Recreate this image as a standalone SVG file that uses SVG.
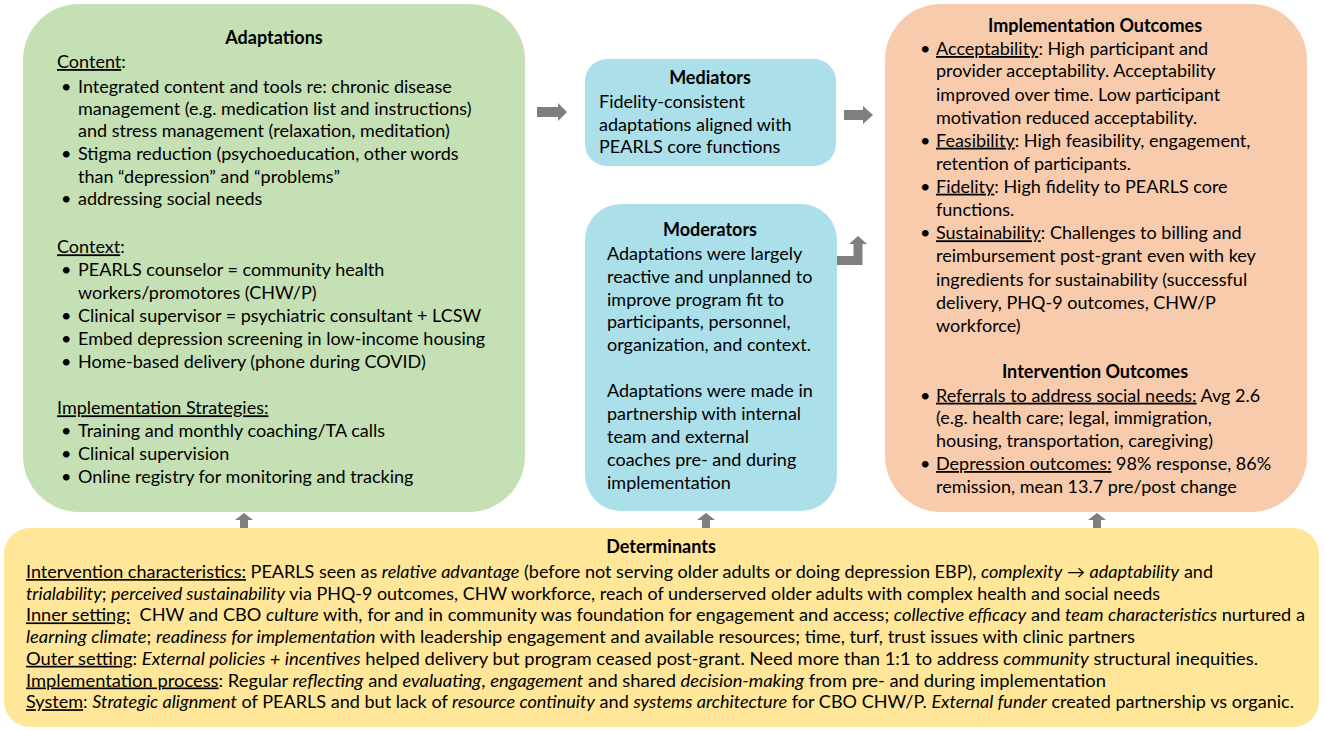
<svg xmlns="http://www.w3.org/2000/svg" width="1325" height="731" viewBox="0 0 1325 731">
<style>
.t{font-family:Lato,"Liberation Sans",sans-serif;font-size:18px;fill:#000;white-space:pre}
.b{font-weight:bold}
.c{text-anchor:middle}
.u{text-decoration:underline}
.i{font-style:italic}
.d{font-size:16.9px}
.arr{fill:#7f7f7f}
</style>
<rect width="1325" height="731" fill="#fff"/>
<g id="adaptations">
<rect x="23" y="4" width="502" height="508" rx="56" fill="#c5e0b4"/>
<text class="t b c" x="274" y="44">Adaptations</text>
<text class="t" x="57" y="68"><tspan class="u">Content</tspan>:</text>
<text class="t" x="61" y="92.7">•</text><text class="t" x="78" y="92.7">Integrated content and tools re: chronic disease</text>
<text class="t" x="78" y="115">management (e.g. medication list and instructions)</text>
<text class="t" x="78" y="137.3">and stress management (relaxation, meditation)</text>
<text class="t" x="61" y="160">•</text><text class="t" x="78" y="160">Stigma reduction (psychoeducation, other words</text>
<text class="t" x="78" y="182.7">than “depression” and “problems”</text>
<text class="t" x="61" y="205.3">•</text><text class="t" x="78" y="205.3">addressing social needs</text>
<text class="t" x="57" y="253.3"><tspan class="u">Context</tspan>:</text>
<text class="t" x="61" y="276">•</text><text class="t" x="78" y="276">PEARLS counselor = community health</text>
<text class="t" x="78" y="299">workers/promotores (CHW/P)</text>
<text class="t" x="61" y="321.7">•</text><text class="t" x="78" y="321.7">Clinical supervisor = psychiatric consultant + LCSW</text>
<text class="t" x="61" y="345">•</text><text class="t" x="78" y="345">Embed depression screening in low-income housing</text>
<text class="t" x="61" y="368.3">•</text><text class="t" x="78" y="368.3">Home-based delivery (phone during COVID)</text>
<text class="t u" x="57" y="414.3">Implementation Strategies:</text>
<text class="t" x="61" y="437.3">•</text><text class="t" x="78" y="437.3">Training and monthly coaching/TA calls</text>
<text class="t" x="61" y="460">•</text><text class="t" x="78" y="460">Clinical supervision</text>
<text class="t" x="61" y="483.3">•</text><text class="t" x="78" y="483.3">Online registry for monitoring and tracking</text>
</g>
<g id="mediators">
<rect x="585" y="59" width="251" height="107" rx="22" fill="#abdfe9"/>
<text class="t b c" x="710" y="84.3">Mediators</text>
<text class="t" x="599" y="107.7">Fidelity-consistent</text>
<text class="t" x="599" y="130.7">adaptations aligned with</text>
<text class="t" x="599" y="153.3">PEARLS core functions</text>
</g>
<g id="moderators">
<rect x="585" y="204" width="252" height="307" rx="36" fill="#abdfe9"/>
<text class="t b c" x="710" y="235.7">Moderators</text>
<text class="t" x="607" y="260">Adaptations were largely</text>
<text class="t" x="607" y="282.7">reactive and unplanned to</text>
<text class="t" x="607" y="305.7">improve program fit to</text>
<text class="t" x="607" y="328.3">participants, personnel,</text>
<text class="t" x="607" y="351">organization, and context.</text>
<text class="t" x="607" y="397.3">Adaptations were made in</text>
<text class="t" x="607" y="420">partnership with internal</text>
<text class="t" x="607" y="443.3">team and external</text>
<text class="t" x="607" y="466">coaches pre- and during</text>
<text class="t" x="607" y="488.7">implementation</text>
</g>
<g id="outcomes">
<rect x="885" y="4" width="422" height="508" rx="56" fill="#f8cbad"/>
<text class="t b c" x="1095" y="31.7">Implementation Outcomes</text>
<text class="t" x="920" y="55">•</text><text class="t" x="936" y="55"><tspan class="u">Acceptability</tspan>: High participant and</text>
<text class="t" x="936" y="77.3">provider acceptability. Acceptability</text>
<text class="t" x="936" y="100.7">improved over time. Low participant</text>
<text class="t" x="936" y="124">motivation reduced acceptability.</text>
<text class="t" x="920" y="146.7">•</text><text class="t" x="936" y="146.7"><tspan class="u">Feasibility</tspan>: High feasibility, engagement,</text>
<text class="t" x="936" y="170">retention of participants.</text>
<text class="t" x="920" y="192.7">•</text><text class="t" x="936" y="192.7"><tspan class="u">Fidelity</tspan>: High fidelity to PEARLS core</text>
<text class="t" x="936" y="216">functions.</text>
<text class="t" x="920" y="239.3">•</text><text class="t" x="936" y="239.3"><tspan class="u">Sustainability</tspan>: Challenges to billing and</text>
<text class="t" x="936" y="261.7">reimbursement post-grant even with key</text>
<text class="t" x="936" y="286">ingredients for sustainability (successful</text>
<text class="t" x="936" y="309.3">delivery, PHQ-9 outcomes, CHW/P</text>
<text class="t" x="936" y="331.7">workforce)</text>
<text class="t b c" x="1095" y="377.7">Intervention Outcomes</text>
<text class="t" x="920" y="401.7">•</text><text class="t" x="936" y="401.7"><tspan class="u">Referrals to address social needs:</tspan> Avg 2.6</text>
<text class="t" x="936" y="424.3">(e.g. health care; legal, immigration,</text>
<text class="t" x="936" y="446.7">housing, transportation, caregiving)</text>
<text class="t" x="920" y="470">•</text><text class="t" x="936" y="470"><tspan class="u">Depression outcomes:</tspan> 98% response, 86%</text>
<text class="t" x="936" y="492.7">remission, mean 13.7 pre/post change</text>
</g>
<g id="determinants">
<rect x="4" y="528" width="1315" height="199" rx="26" fill="#ffe699"/>
<text class="t b c" x="661" y="553">Determinants</text>
<text class="t d" x="26" y="578" textLength="1187" lengthAdjust="spacingAndGlyphs"><tspan class="u">Intervention characteristics:</tspan> PEARLS seen as <tspan class="i">relative advantage</tspan> (before not serving older adults or doing depression EBP), <tspan class="i">complexity</tspan> → <tspan class="i">adaptability</tspan> and</text>
<text class="t d" x="26" y="599.7" textLength="1134" lengthAdjust="spacingAndGlyphs"><tspan class="i">trialability</tspan>; <tspan class="i">perceived sustainability</tspan> via PHQ-9 outcomes, CHW workforce, reach of underserved older adults with complex health and social needs</text>
<text class="t d" x="26" y="621.4" textLength="1279" lengthAdjust="spacingAndGlyphs"><tspan class="u">Inner setting:</tspan>  CHW and CBO <tspan class="i">culture</tspan> with, for and in community was foundation for engagement and access; <tspan class="i">collective efficacy</tspan> and <tspan class="i">team characteristics</tspan> nurtured a</text>
<text class="t d" x="26" y="643.1" textLength="1109" lengthAdjust="spacingAndGlyphs"><tspan class="i">learning climate</tspan>; <tspan class="i">readiness for implementation</tspan> with leadership engagement and available resources; time, turf, trust issues with clinic partners</text>
<text class="t d" x="26" y="664.8" textLength="1232" lengthAdjust="spacingAndGlyphs"><tspan class="u">Outer setting</tspan>: <tspan class="i">External policies + incentives</tspan> helped delivery but program ceased post-grant. Need more than 1:1 to address <tspan class="i">community</tspan> structural inequities.</text>
<text class="t d" x="26" y="686.5" textLength="1080" lengthAdjust="spacingAndGlyphs"><tspan class="u">Implementation process</tspan>: Regular <tspan class="i">reflecting</tspan> and <tspan class="i">evaluating</tspan>, <tspan class="i">engagement</tspan> and shared <tspan class="i">decision-making</tspan> from pre- and during implementation</text>
<text class="t d" x="26" y="708.2" textLength="1268" lengthAdjust="spacingAndGlyphs"><tspan class="u">System</tspan>: <tspan class="i">Strategic alignment</tspan> of PEARLS and but lack of <tspan class="i">resource continuity</tspan> and <tspan class="i">systems architecture</tspan> for CBO CHW/P. <tspan class="i">External funder</tspan> created partnership vs organic.</text>
</g>
<g id="connectors">
<path class="arr" d="M537,107 H558 V103 L567,112 L558,121 V117 H537 Z"/>
<path class="arr" d="M844,110 H863 V106 L873,115 L863,124 V120 H844 Z"/>
<path class="arr" d="M837,256 H853.5 V244 H849 L858,236 L867,244 H862.5 V265 H837 Z"/>
<path class="arr" d="M240,528 V520 H235 L244,513 L253,520 H248 V528 Z"/>
<path class="arr" d="M702,528 V520 H697 L706,513 L715,520 H710 V528 Z"/>
<path class="arr" d="M1093,528 V520 H1088 L1097,513 L1106,520 H1101 V528 Z"/>
</g>
</svg>
